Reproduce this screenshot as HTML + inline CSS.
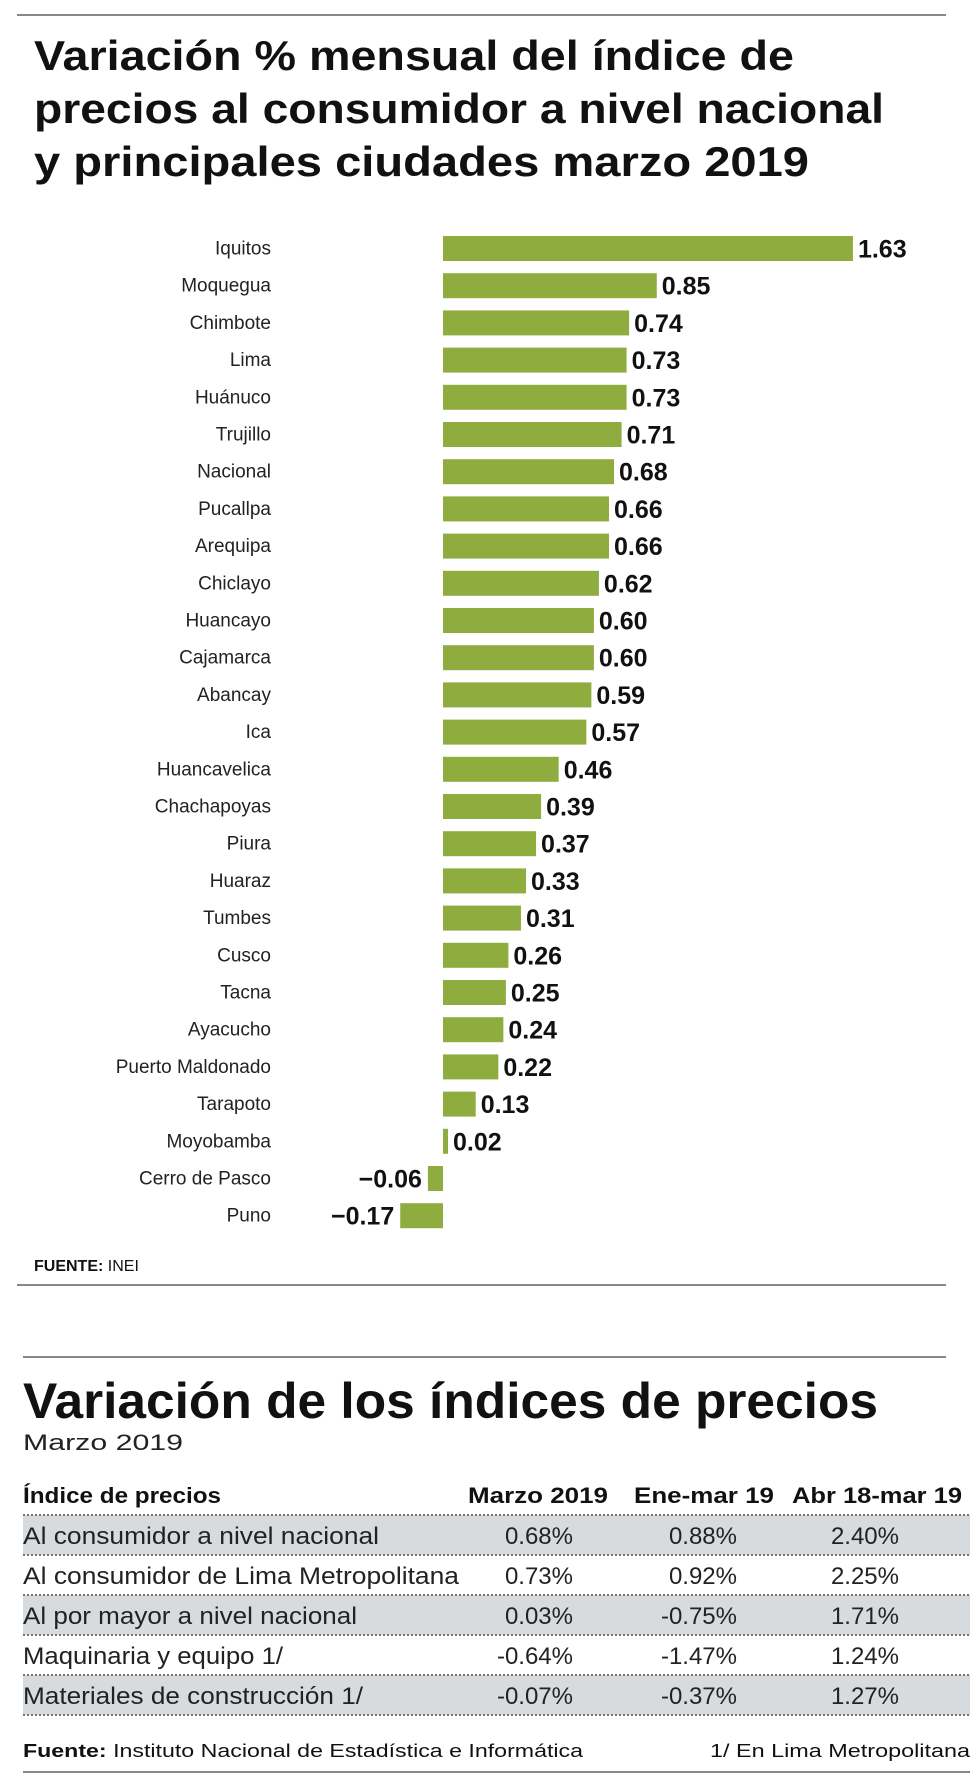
<!DOCTYPE html>
<html><head><meta charset="utf-8"><style>
html,body{margin:0;padding:0;background:#fff;}
svg{display:block;}
text{font-family:"Liberation Sans",sans-serif;}
</style></head><body>
<svg width="980" height="1779" viewBox="0 0 980 1779">
<line x1="17" y1="15" x2="946" y2="15" stroke="#888" stroke-width="2"/>
<g font-weight="bold" font-size="42" fill="#111">
<text x="34" y="70" textLength="760" lengthAdjust="spacingAndGlyphs">Variación % mensual del índice de</text>
<text x="34" y="123" textLength="850" lengthAdjust="spacingAndGlyphs">precios al consumidor a nivel nacional</text>
<text x="34" y="176" textLength="775" lengthAdjust="spacingAndGlyphs">y principales ciudades marzo 2019</text>
</g>
<g id="bars"></g>
<text x="34" y="1271" font-size="16" fill="#111"><tspan font-weight="bold">FUENTE:</tspan> INEI</text>
<line x1="17" y1="1285" x2="946" y2="1285" stroke="#888" stroke-width="2"/>

<line x1="23" y1="1357" x2="946" y2="1357" stroke="#888" stroke-width="2"/>
<text x="23" y="1418" font-size="50" font-weight="bold" fill="#111" textLength="855" lengthAdjust="spacingAndGlyphs">Variación de los índices de precios</text>
<text x="23" y="1450" font-size="22" fill="#222" textLength="160" lengthAdjust="spacingAndGlyphs">Marzo 2019</text>
<g id="table"></g>
<text x="23" y="1757" font-size="18" fill="#111" textLength="560" lengthAdjust="spacingAndGlyphs"><tspan font-weight="bold">Fuente:</tspan> Instituto Nacional de Estadística e Informática</text>
<text x="970" y="1757" font-size="18" fill="#111" text-anchor="end" textLength="260" lengthAdjust="spacingAndGlyphs">1/ En Lima Metropolitana</text>
<line x1="23" y1="1772" x2="970" y2="1772" stroke="#888" stroke-width="2"/>
</svg>
<script>
const cities=["Iquitos","Moquegua","Chimbote","Lima","Huánuco","Trujillo","Nacional","Pucallpa","Arequipa","Chiclayo","Huancayo","Cajamarca","Abancay","Ica","Huancavelica","Chachapoyas","Piura","Huaraz","Tumbes","Cusco","Tacna","Ayacucho","Puerto Maldonado","Tarapoto","Moyobamba","Cerro de Pasco","Puno"];
const values=[1.63,0.85,0.74,0.73,0.73,0.71,0.68,0.66,0.66,0.62,0.60,0.60,0.59,0.57,0.46,0.39,0.37,0.33,0.31,0.26,0.25,0.24,0.22,0.13,0.02,-0.06,-0.17];
const tableRows=["Al consumidor a nivel nacional","Al consumidor de Lima Metropolitana","Al por mayor a nivel nacional","Maquinaria y equipo 1/","Materiales de construcción 1/"];
const colMarzo=["0.68%","0.73%","0.03%","-0.64%","-0.07%"];
const colEneMar=["0.88%","0.92%","-0.75%","-1.47%","-0.37%"];
const colAbrMar=["2.40%","2.25%","1.71%","1.24%","1.27%"];
const NS="http://www.w3.org/2000/svg";
function mk(t,a,p){const e=document.createElementNS(NS,t);for(const k in a)e.setAttribute(k,a[k]);p.appendChild(e);return e;}
const x=v=>443+v*251.5;
const y=i=>248.5+i*37.2;
const g=document.getElementById('bars');
cities.forEach((c,i)=>{
  const v=values[i],cy=y(i);
  const r=mk('rect',{x:Math.min(x(0),x(v)),y:cy-12.5,width:Math.max(Math.abs(x(v)-x(0)),2),height:25,fill:'#8fac3f'},g);
  
  
  const l=mk('text',{x:271,y:cy+6,'text-anchor':'end','font-size':19,fill:'#222'},g);
  l.textContent=c;
  
  
  const pos=v>=0;
  const t=mk('text',{x:pos?x(v)+5:x(v)-6,y:cy+9,'text-anchor':pos?'start':'end','font-size':25,'font-weight':'bold',fill:'#111'},g);
  t.textContent=pos?v.toFixed(2):'−'+Math.abs(v).toFixed(2);
  
  
});
const tb=document.getElementById('table');
const colX=[573,737,899];
const h=mk('text',{x:23,y:1503,'font-size':22,'font-weight':'bold',fill:'#111',textLength:198,lengthAdjust:'spacingAndGlyphs'},tb);
h.textContent='Índice de precios';


[["Marzo 2019",468,140],["Ene-mar 19",634,140],["Abr 18-mar 19",792,170]].forEach(hd=>{
  const e=mk('text',{x:hd[1],y:1503,'font-size':22,'font-weight':'bold',fill:'#111',textLength:hd[2],lengthAdjust:'spacingAndGlyphs'},tb);
  e.textContent=hd[0];
  
  
});
const widths=[356,436,334,260,340];
tableRows.forEach((r,i)=>{
  const top=1515+i*40;
  if(i%2===0){const bg=mk('rect',{x:23,y:top,width:947,height:40,fill:'#d7dbde'},tb);
    
    }
  const ln=mk('line',{x1:23,y1:top,x2:970,y2:top,stroke:'#777','stroke-width':2,'stroke-dasharray':'2,2'},tb);
  
  
  const lab=mk('text',{x:23,y:top+29,'font-size':24,fill:'#222',textLength:widths[i],lengthAdjust:'spacingAndGlyphs'},tb);
  lab.textContent=r;
  
  
  [colMarzo,colEneMar,colAbrMar].forEach((col,j)=>{
    const t=mk('text',{x:colX[j],y:top+29,'font-size':24,fill:'#222','text-anchor':'end'},tb);
    t.textContent=col[i];
    
    
  });
});
const last=mk('line',{x1:23,y1:1715,x2:970,y2:1715,stroke:'#777','stroke-width':2,'stroke-dasharray':'2,2'},tb);


</script>
</body></html>
